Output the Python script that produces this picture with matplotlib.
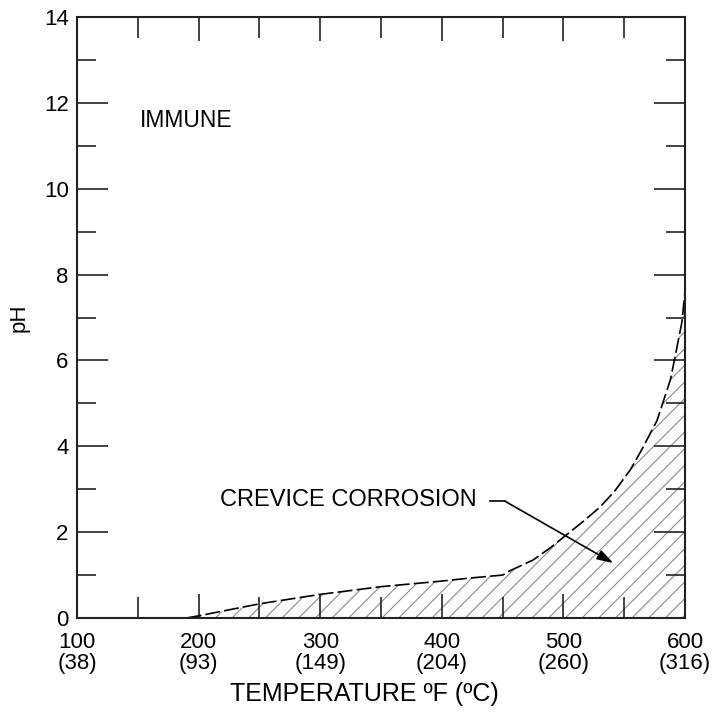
import numpy as np
import matplotlib.pyplot as plt
from matplotlib.ticker import MultipleLocator

plt.rcParams['font.family'] = ['Liberation Sans', 'DejaVu Sans']
plt.rcParams['hatch.color'] = '#8a8a8a'
plt.rcParams['hatch.linewidth'] = 0.8

# boundary curve
temp_f = [190, 200, 250, 300, 350, 400, 423, 450, 456, 475, 489, 500, 515,
          530, 542, 555, 565, 577, 588, 593, 597.5, 600]
ph = [0.0, 0.05, 0.33, 0.55, 0.73, 0.86, 0.93, 1.0, 1.1, 1.35, 1.63, 1.88, 2.22,
      2.58, 2.95, 3.45, 3.95, 4.6, 5.55, 6.25, 6.9, 7.6]

xticks = [100, 200, 300, 400, 500, 600]
xticklabels = ['100\n(38)', '200\n(93)', '300\n(149)', '400\n(204)', '500\n(260)', '600\n(316)']
yticks = [0, 2, 4, 6, 8, 10, 12, 14]

fig = plt.figure(figsize=(7.14, 7.17), dpi=100)
ax = fig.add_axes([77/714, 1-618/717, 608/714, 601/717])

ax.fill_between(temp_f, 0, ph, facecolor='none', edgecolor='#8a8a8a',
                hatch='//', linewidth=0)
ax.plot(temp_f, ph, color='black', lw=1.2, dashes=(9, 2.5))

ax.set_xlim(100, 600)
ax.set_ylim(0, 14)
ax.set_xticks(xticks)
ax.set_xticklabels(xticklabels, fontsize=16, linespacing=1.0)
ax.set_yticks(yticks)
ax.tick_params(axis='y', labelsize=16)
ax.xaxis.set_minor_locator(MultipleLocator(50))
ax.yaxis.set_minor_locator(MultipleLocator(1))
ax.tick_params(which='both', direction='in', top=True, right=True, width=1.2, color='#222222')
ax.tick_params(axis='x', which='major', length=17, pad=10)
ax.tick_params(axis='x', which='minor', length=15)
ax.tick_params(axis='y', which='major', length=22, pad=6)
ax.tick_params(axis='y', which='minor', length=14)
for s in ax.spines.values():
    s.set_linewidth(1.5)
    s.set_color('#222222')

ax.set_xlabel('TEMPERATURE ºF (ºC)', fontsize=18, labelpad=6)
ax.xaxis.set_label_coords(0.472, -0.106)
ax.set_ylabel('pH', fontsize=16, labelpad=10)

ax.text(152, 11.6, 'IMMUNE', fontsize=16.5, va='center')
ax.text(218, 2.75, 'CREVICE CORROSION', fontsize=17, va='center')
ax.plot([440, 452], [2.72, 2.72], color='black', lw=1.2)
ax.annotate('', xy=(541, 1.28), xytext=(452, 2.72),
            arrowprops=dict(arrowstyle='-|>,head_length=0.7,head_width=0.22',
                            color='black', lw=1.2,
                            mutation_scale=14, shrinkA=0, shrinkB=0))

fig.savefig('out.png', dpi=100)
